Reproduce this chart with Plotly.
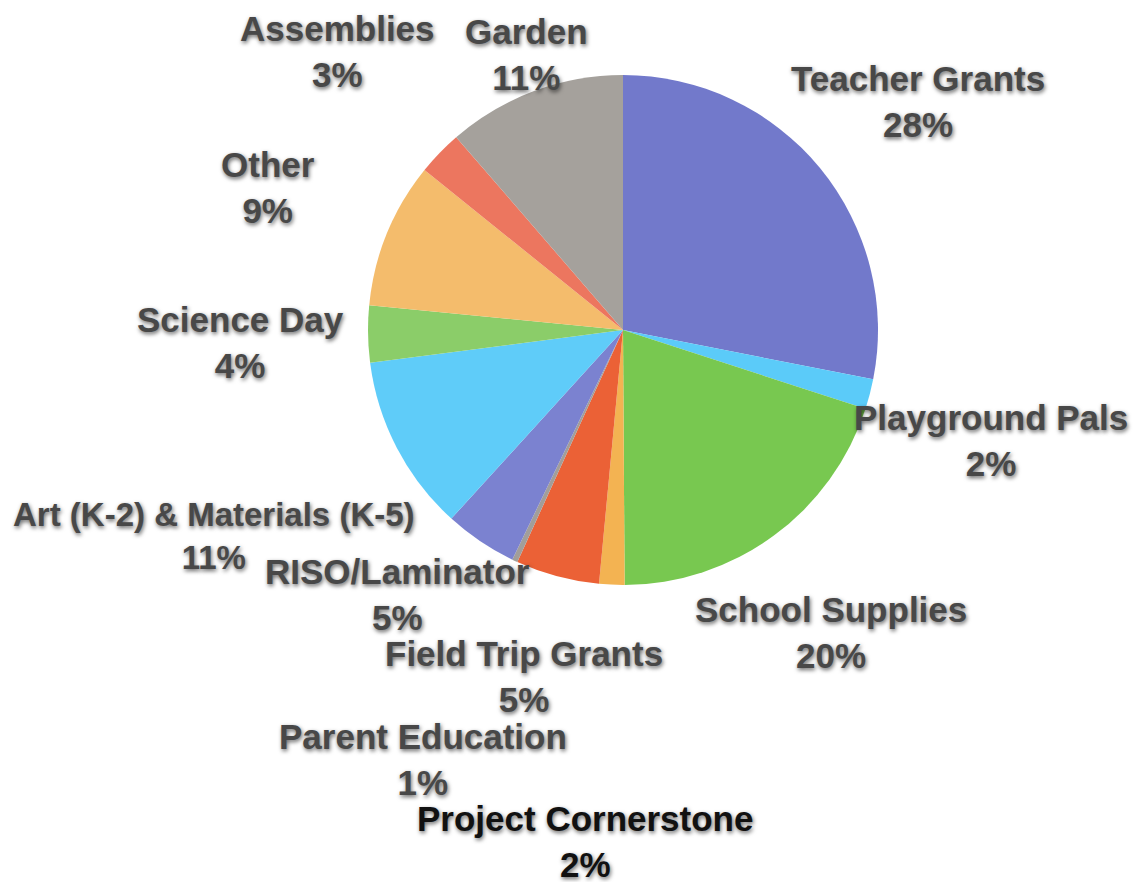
import plotly.graph_objects as go

categories = ["Teacher Grants", "Playground Pals", "School Supplies", "Project Cornerstone",
              "Field Trip Grants", "Parent Education", "RISO/Laminator",
              "Art (K-2) & Materials (K-5)", "Science Day", "Other", "Assemblies", "Garden"]
values = [28.1, 1.9, 19.9, 1.6, 5.3, 0.35, 4.6, 11.2, 3.6, 9.25, 2.85, 11.35]
pct_labels = ["28%", "2%", "20%", "2%", "5%", "1%", "5%", "11%", "4%", "9%", "3%", "11%"]

colors = ["#7279CB", "#5BCBF9", "#78C850", "#F3B352", "#EB6136", "#A29E9A",
          "#7B82D0", "#5FCCF9", "#8BCD69", "#F4BC6C", "#EC765F", "#A5A19C"]
text_colors = ["#484848"] * 12
text_colors[3] = "#111111"

# label block centres in pixels (x, y from top)
label_pos = [(910, 94), (983, 432), (823, 624), (577, 833), (516, 668), (415, 751),
             (389, 586), (206, 528), (232, 334), (260, 179), (329, 44), (518, 47)]
label_size = [35, 35, 35, 35, 35, 35, 35, 33, 35, 35, 35, 35]

W, H = 1143, 882
cx, cy, r = 615, 322, 255

fig = go.Figure(go.Pie(
    labels=categories,
    values=values,
    sort=False,
    direction="clockwise",
    rotation=0,
    marker=dict(colors=colors, line=dict(width=0)),
    textinfo="none",
    hoverinfo="label+percent",
    showlegend=False,
    domain=dict(x=[(cx - r) / W, (cx + r) / W], y=[1 - (cy + r) / H, 1 - (cy - r) / H]),
))

for name, pct, (px, py), tc, fs in zip(categories, pct_labels, label_pos, text_colors, label_size):
    fig.add_annotation(
        x=px / W, y=1 - py / H, xref="paper", yref="paper",
        xanchor="center", yanchor="middle", align="center",
        text=f"{name}<br>{pct}", showarrow=False,
        font=dict(family="Liberation Sans, Arial, sans-serif", size=fs, color=tc,
                  weight="bold", shadow="1px 2px 4px rgba(0,0,0,0.6)"),
    )

fig.update_layout(
    width=W, height=H,
    margin=dict(l=0, r=0, t=0, b=0),
    paper_bgcolor="white",
    plot_bgcolor="white",
)

fig.write_html("out.html")
